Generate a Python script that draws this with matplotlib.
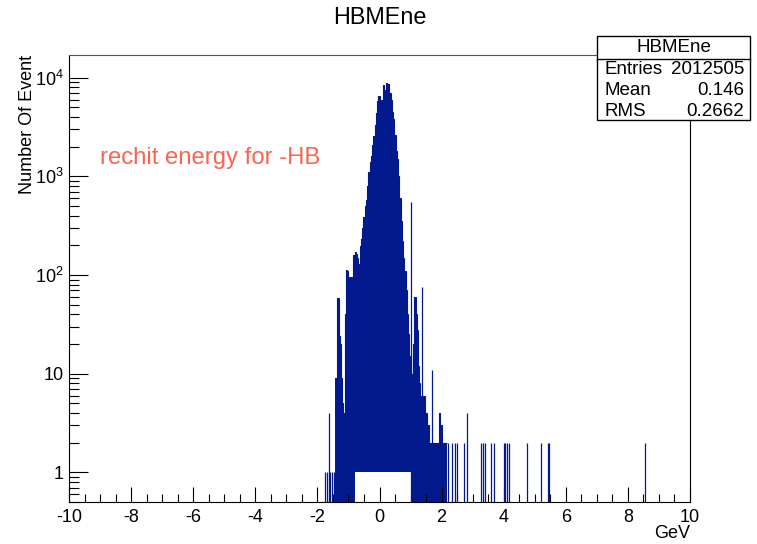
import numpy as np
import matplotlib
matplotlib.use("Agg")
import matplotlib.pyplot as plt
from matplotlib.patches import Rectangle

plt.rcParams['font.family'] = ['Liberation Sans', 'DejaVu Sans']
plt.rcParams['mathtext.fontset'] = 'custom'
plt.rcParams['mathtext.rm'] = 'Liberation Sans'
plt.rcParams['mathtext.it'] = 'Liberation Sans'

# core of the histogram, 0.04 GeV bins starting at -1.44 GeV
bin_start = -1.44
bin_width = 0.04
core_counts = [
    9, 9, 59, 24, 20, 9, 5, 4, 40, 113,
    110, 96, 6, 95, 90, 160, 170, 165, 150, 130,
    195, 230, 300, 390, 500, 580, 800, 1100, 1400, 1600,
    2100, 2550, 3300, 4400, 5800, 6500, 6000, 4800, 6000, 8500,
    7500, 8900, 7000, 8600, 7000, 6000, 4500, 3800, 2600, 1800,
    1500, 1000, 600, 350, 220, 150, 110, 70, 40, 25,
    15, 10, 10, 20, 60, 40, 28, 12, 8, 6,
    6, 5, 6, 4, 3, 3, 2, 2, 2, 2,
    2, 2, 2, 2, 4, 3, 2, 2, 2, 2,
]

# isolated single bins (GeV, entries)
spike_pos = [-1.75, -1.69, -1.64, -1.58, -1.53, -1.47, 1.00, 1.36, 1.68,
             2.22, 2.32, 2.43, 2.49, 2.73, 2.81, 3.27, 3.32, 3.40, 3.58, 3.70,
             4.00, 4.05, 4.12, 4.17, 4.74, 5.20, 5.42, 5.46, 8.55]
spike_cnt = [1, 1, 4, 1, 1, 1, 545, 75, 11,
             2, 2, 2, 2, 2, 4, 2, 2, 2, 2, 2,
             2, 2, 2, 2, 2, 2, 2, 2, 2]

stat_names = ["Entries", "Mean", "RMS"]
stat_values = ["2012505", "0.146", "0.2662"]

navy = '#021a8e'
ymin, ymax = 0.5, 1.7e4

W, H = 757, 544
fig = plt.figure(figsize=(W / 100, H / 100), dpi=100)
ax = fig.add_axes([69 / W, 1 - 502 / H, (690 - 69) / W, (502 - 55) / H])

edges = bin_start + bin_width * np.arange(len(core_counts) + 1)
centers = 0.5 * (edges[:-1] + edges[1:])
base = np.where((centers > -0.78) & (centers < 1.02), 1.0, ymin)
ax.stairs(core_counts, edges, baseline=base, fill=True, color=navy, lw=0)
ax.stairs(core_counts, edges, baseline=None, color=navy, lw=0.8)
ax.vlines(spike_pos, ymin, spike_cnt, color=navy, lw=0.9)

ax.set_yscale('log')
ax.set_xlim(-10, 10)
ax.set_ylim(ymin, ymax)

ax.set_xticks(np.arange(-10, 11, 2))
ax.set_xticks(np.arange(-10, 10.01, 0.5), minor=True)
ax.set_xticklabels([str(v) for v in range(-10, 11, 2)])
ax.set_yticks([1, 10, 100, 1000, 10000])
ax.set_yticklabels(['1', '10', '$10^{2}$', '$10^{3}$', '$10^{4}$'])
ax.yaxis.set_minor_locator(matplotlib.ticker.LogLocator(base=10, subs=np.arange(2, 10)))
ax.yaxis.set_minor_formatter(matplotlib.ticker.NullFormatter())

ax.tick_params(axis='x', which='major', direction='in', length=11, width=0.8,
               labelsize=13, pad=5, top=False)
ax.tick_params(axis='x', which='minor', direction='in', length=6, width=0.8, top=False)
ax.tick_params(axis='y', which='major', direction='in', length=14, width=0.8,
               labelsize=13, pad=4, right=False)
ax.tick_params(axis='y', which='minor', direction='in', length=7, width=0.8, right=False)
for s in ax.spines.values():
    s.set_linewidth(0.8)
ax.spines['top'].set_color('#555555')

fig.text(380 / W, 1 - 18 / H, 'HBMEne', ha='center', va='center', fontsize=16.8)
fig.text(28 / W, 1 - 55 / H, 'Number Of Event', rotation=90, ha='center', va='top',
         fontsize=13)
fig.text(690 / W, 1 - 534 / H, 'GeV', ha='right', va='center', fontsize=13)
fig.text(100 / W, 1 - 158 / H, 'rechit energy for -HB', ha='left', va='center',
         fontsize=17.2, color='#fa6450')

# stats box
bx0, bx1, by0, by1 = 597, 750, 36, 120
fig.patches.append(Rectangle((bx0 / W, 1 - by1 / H), (bx1 - bx0) / W, (by1 - by0) / H,
                             transform=fig.transFigure, facecolor='white',
                             edgecolor='black', lw=1, zorder=5))
fig.lines.append(plt.Line2D([bx0 / W, bx1 / W], [1 - 59 / H, 1 - 59 / H],
                            transform=fig.transFigure, color='black', lw=1, zorder=6))
fig.text((bx0 + bx1) / 2 / W, 1 - 47.5 / H, 'HBMEne', ha='center', va='center',
         fontsize=13.5, zorder=7)
for i, (name, val) in enumerate(zip(stat_names, stat_values)):
    yy = 1 - (70 + 20.7 * i) / H
    fig.text(604 / W, yy, name, ha='left', va='center', fontsize=13.5, zorder=7)
    fig.text(744 / W, yy, val, ha='right', va='center', fontsize=13.5, zorder=7)

fig.savefig('out.png', dpi=100)
